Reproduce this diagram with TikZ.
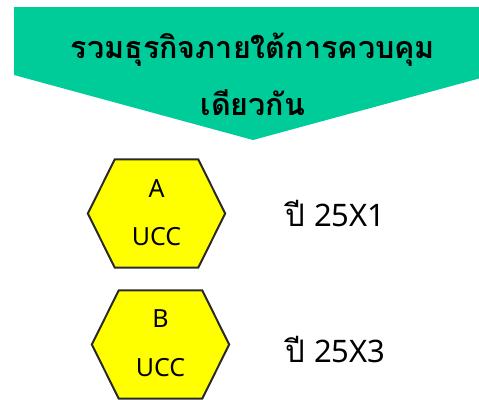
\documentclass[tikz,border=0pt]{standalone}
\usepackage{fontspec}
\newfontfamily\thaifont[Script=Thai]{Loma}
\newfontfamily\latinfont{Noto Sans}
\definecolor{bannergreen}{HTML}{00CC99}
\definecolor{hexyellow}{HTML}{FFFF00}
\definecolor{hexborder}{HTML}{2A2A2A}
\begin{document}
\begin{tikzpicture}[x=1pt,y=-1pt,
  hexframe/.style={fill=hexyellow,draw=hexborder,line width=2pt,line join=miter},
  hexbox/.style={minimum width=137pt,minimum height=108pt,inner sep=0pt},
  titletext/.style={anchor=base,inner sep=0pt,font=\thaifont\bfseries\fontsize{30.5}{34}\selectfont},
  hextext/.style={anchor=base,inner sep=0pt,font=\latinfont\fontsize{25}{28}\selectfont},
  yeartext/.style={anchor=base west,inner sep=0pt,font=\fontsize{31}{34}\selectfont}]
\useasboundingbox (0,0) rectangle (479,399);
\clip (0,0) rectangle (479,399);
% banner
\coordinate (bTL) at (14,7);
\coordinate (bTR) at (492,7);
\coordinate (bR) at (492,75);
\coordinate (bTip) at (253,140);
\coordinate (bL) at (14,75);
\fill[bannergreen] (bTL) -- (bTR) -- (bR) -- (bTip) -- (bL) -- cycle;
\node[titletext] (t1) at (253,58) {รวมธุรกิจภายใต้การควบคุม};
\node[titletext] (t2) at (253,115) {เดียวกัน};
% hexagon A
\node[hexbox] (hexA) at (156.5,213.5) {};
\draw[hexframe] (hexA.west) -- ([xshift=27pt]hexA.north west) -- ([xshift=-27pt]hexA.north east)
  -- (hexA.east) -- ([xshift=-27pt]hexA.south east) -- ([xshift=27pt]hexA.south west) -- cycle;
\node[hextext] (labA) at (156.5,197) {A};
\node[hextext] (uccA) at (156.5,245) {UCC};
% hexagon B
\node[hexbox] (hexB) at (160.5,344.5) {};
\draw[hexframe] (hexB.west) -- ([xshift=27pt]hexB.north west) -- ([xshift=-27pt]hexB.north east)
  -- (hexB.east) -- ([xshift=-27pt]hexB.south east) -- ([xshift=27pt]hexB.south west) -- cycle;
\node[hextext] (labB) at (160.5,327) {B};
\node[hextext] (uccB) at (160.5,376) {UCC};
% years
\node[yeartext] (y1) at (285,226) {{\thaifont ปี} {\latinfont 25X1}};
\node[yeartext] (y3) at (285,362) {{\thaifont ปี} {\latinfont 25X3}};
\end{tikzpicture}
\end{document}
